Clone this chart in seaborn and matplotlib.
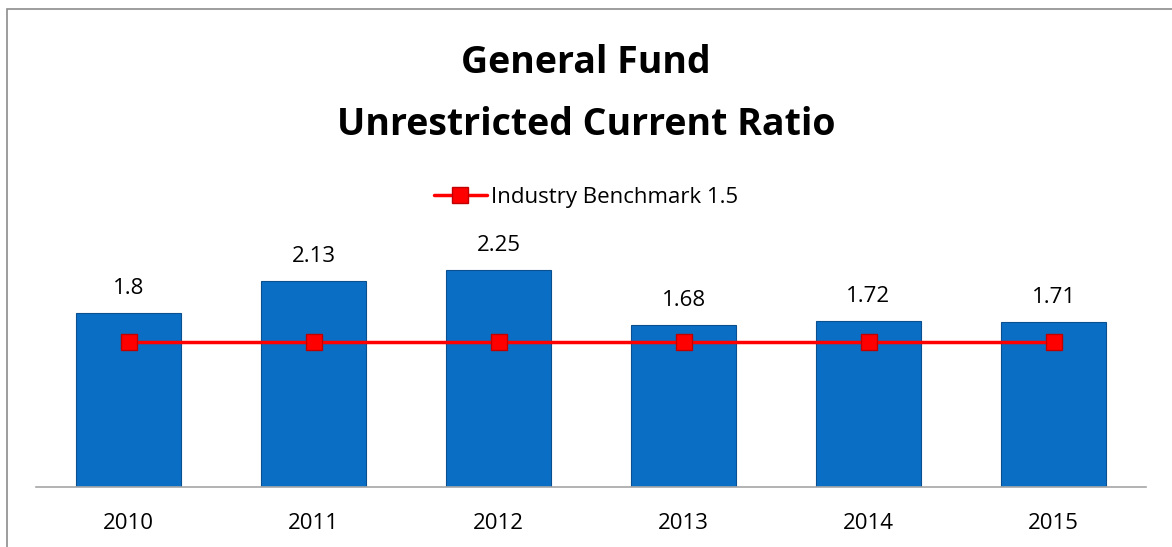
import matplotlib.pyplot as plt
import matplotlib.patches as mpatches
from matplotlib.lines import Line2D
import pandas as pd
import seaborn as sns

years = ["2010", "2011", "2012", "2013", "2014", "2015"]
ratios = [1.8, 2.13, 2.25, 1.68, 1.72, 1.71]
benchmark = [1.5, 1.5, 1.5, 1.5, 1.5, 1.5]
bar_labels = ["1.8", "2.13", "2.25", "1.68", "1.72", "1.71"]

W, H = 1172, 547
txt_size = 16


def main():
    sns.set_style("white")
    plt.rcParams["font.family"] = ["Open Sans", "DejaVu Sans"]
    plt.rcParams["text.color"] = "black"
    plt.rcParams["xtick.color"] = "black"

    df = pd.DataFrame({"year": years, "ratio": ratios, "bench": benchmark})

    fig = plt.figure(figsize=(W / 100, H / 100), dpi=100)
    # axes: left 36px, right 1146px, bottom at y=487, top at y=197
    ax = fig.add_axes([36 / W, (H - 487) / H, 1110 / W, 290 / H])

    sns.barplot(data=df, x="year", y="ratio", color="#0A6FC4", width=0.57,
                edgecolor="#0A4F8F", linewidth=0.8, saturation=1, ax=ax)
    ax.bar_label(ax.containers[0], labels=bar_labels, padding=10,
                 fontsize=txt_size, color="black")

    sns.pointplot(data=df, x="year", y="bench", color="#FF0000", markers="s",
                  linestyles="-", ax=ax, markersize=12,
                  markeredgecolor="#C00000", markeredgewidth=1, linewidth=2.5,
                  errorbar=None)

    ax.set_ylim(0, 3)
    ax.set_xlim(-0.5, 5.5)
    ax.set_xlabel("")
    ax.set_ylabel("")
    ax.set_yticks([])
    for s in ["top", "left", "right"]:
        ax.spines[s].set_visible(False)
    ax.spines["bottom"].set_color("#A6A6A6")
    ax.spines["bottom"].set_linewidth(1.2)
    ax.tick_params(axis="x", length=0, labelsize=txt_size, pad=19)

    handle = Line2D([], [], color="#FF0000", linewidth=2.5, marker="s",
                    markersize=12, markeredgecolor="#C00000")
    fig.legend(handles=[handle], labels=["Industry Benchmark 1.5"],
               loc="center", bbox_to_anchor=(0.5, (H - 197) / H), frameon=False,
               fontsize=txt_size, handlelength=2.4, handletextpad=0.2,
               labelcolor="black")

    fig.text(0.5, (H - 63) / H, "General Fund", ha="center", va="center",
             fontsize=27, fontweight="bold", color="black")
    fig.text(0.5, (H - 125) / H, "Unrestricted Current Ratio", ha="center",
             va="center", fontsize=27, fontweight="bold", color="black")

    # chart frame: left and top edges visible, right/bottom run off the image
    border = mpatches.Rectangle((7 / W, -0.05), 1.1, 1.05 - 9 / H,
                                transform=fig.transFigure, fill=False,
                                edgecolor="#8C8C8C", linewidth=1.2)
    fig.patches.append(border)

    fig.savefig("out.png", dpi=100)


if __name__ == "__main__":
    main()
